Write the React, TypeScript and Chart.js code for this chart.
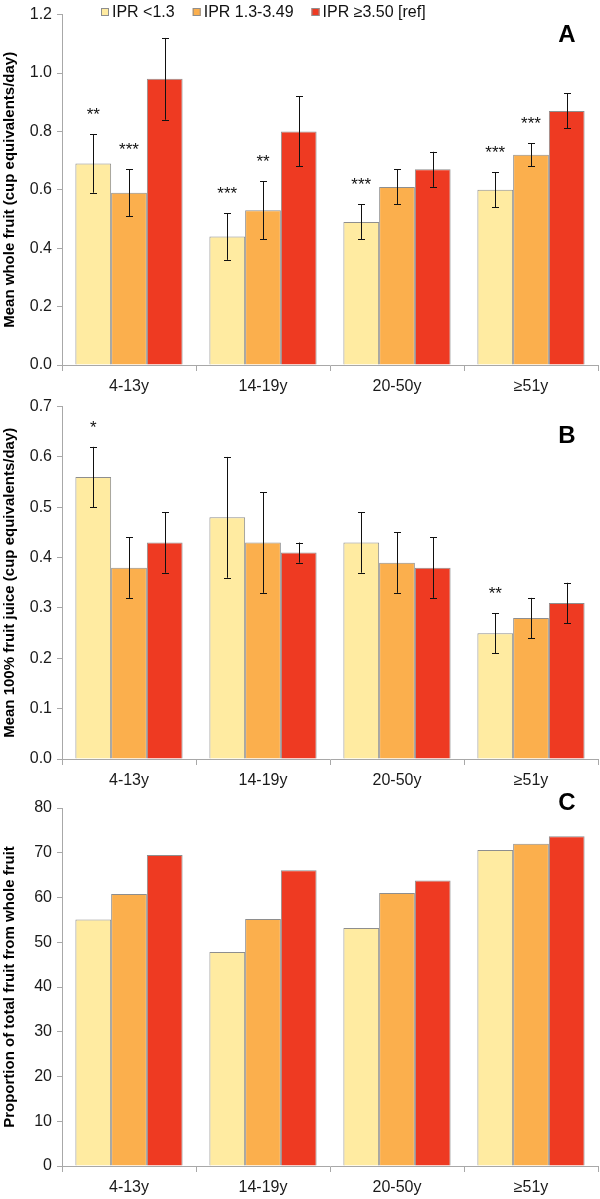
import React, { useEffect, useRef } from "react";
import { Chart, registerables } from "chart.js";
Chart.register(...registerables);

const FONT = "'Liberation Sans', Arial, sans-serif";

const categories = ["4-13y", "14-19y", "20-50y", "≥51y"];
const seriesLabels = ["IPR <1.3", "IPR 1.3-3.49", "IPR ≥3.50 [ref]"];
const seriesColors = ["#FFEBA1", "#FBAF4D", "#EE3A22"];

// Panel A: mean whole fruit
const wholeLow = [0.69, 0.44, 0.49, 0.6];
const wholeMid = [0.59, 0.53, 0.61, 0.72];
const wholeHigh = [0.98, 0.8, 0.67, 0.87];
const wholeLowCI = [[0.59, 0.79], [0.36, 0.52], [0.43, 0.55], [0.54, 0.66]];
const wholeMidCI = [[0.51, 0.67], [0.43, 0.63], [0.55, 0.67], [0.68, 0.76]];
const wholeHighCI = [[0.84, 1.12], [0.68, 0.92], [0.61, 0.73], [0.81, 0.93]];
const wholeLowStars = ["**", "***", "***", "***"];
const wholeMidStars = ["***", "**", "", "***"];
const wholeHighStars = ["", "", "", ""];

// Panel B: mean 100% fruit juice
const juiceLow = [0.56, 0.48, 0.43, 0.25];
const juiceMid = [0.38, 0.43, 0.39, 0.28];
const juiceHigh = [0.43, 0.41, 0.38, 0.31];
const juiceLowCI = [[0.5, 0.62], [0.36, 0.6], [0.37, 0.49], [0.21, 0.29]];
const juiceMidCI = [[0.32, 0.44], [0.33, 0.53], [0.33, 0.45], [0.24, 0.32]];
const juiceHighCI = [[0.37, 0.49], [0.39, 0.43], [0.32, 0.44], [0.27, 0.35]];
const juiceLowStars = ["*", "", "", "**"];
const juiceMidStars = ["", "", "", ""];
const juiceHighStars = ["", "", "", ""];

// Panel C: proportion of total fruit from whole fruit
const propLow = [55.1, 47.8, 53.2, 70.6];
const propMid = [60.8, 55.2, 61.0, 72.0];
const propHigh = [69.5, 66.1, 63.8, 73.7];

type PanelProps = {
  top: number;
  height: number;
  padTop: number;
  xAxisH: number;
  values: number[][];
  ci?: number[][][];
  stars?: string[][];
  yMax: number;
  yStep: number;
  decimals: number;
  yTitle: string;
  letter: string;
  letterY: number;
  showLegend?: boolean;
};

function Panel(props: PanelProps) {
  const ref = useRef<HTMLCanvasElement>(null);
  useEffect(() => {
    const { values, ci, stars, yMax, yStep, decimals, yTitle, letter, letterY, showLegend, padTop, xAxisH } = props;
    const axisColor = "#A8A8A8";
    const datasets = seriesLabels.map((label, i) => ({
      label,
      data: values[i],
      backgroundColor: seriesColors[i],
      borderColor: "#8E8E8E",
      borderWidth: 1,
      borderSkipped: "start" as const,
      categoryPercentage: 0.8,
      barPercentage: 1.0,
    }));
    const extras = {
      id: "extras",
      afterDatasetsDraw(chart: any) {
        const ctx = chart.ctx as CanvasRenderingContext2D;
        const ys = chart.scales.y;
        ctx.save();
        chart.data.datasets.forEach((ds: any, di: number) => {
          const meta = chart.getDatasetMeta(di);
          meta.data.forEach((bar: any, k: number) => {
            const x = bar.x;
            let topY = bar.y;
            const r = ci ? ci[di][k] : null;
            if (r) {
              const yl = ys.getPixelForValue(r[0]);
              const yh = ys.getPixelForValue(r[1]);
              const xc = Math.round(x) + 0.5;
              ctx.strokeStyle = "#111";
              ctx.lineWidth = 1;
              ctx.beginPath();
              ctx.moveTo(xc, yl);
              ctx.lineTo(xc, yh);
              ctx.moveTo(xc - 3.5, Math.round(yl) + 0.5);
              ctx.lineTo(xc + 3.5, Math.round(yl) + 0.5);
              ctx.moveTo(xc - 3.5, Math.round(yh) + 0.5);
              ctx.lineTo(xc + 3.5, Math.round(yh) + 0.5);
              ctx.stroke();
              topY = yh;
            }
            const s = stars ? stars[di][k] : "";
            if (s) {
              ctx.font = `17px ${FONT}`;
              ctx.fillStyle = "#111";
              ctx.textAlign = "center";
              ctx.textBaseline = "alphabetic";
              ctx.fillText(s, x, topY - 14);
            }
          });
        });
        // panel letter
        ctx.font = `bold 24px ${FONT}`;
        ctx.fillStyle = "#000";
        ctx.textAlign = "center";
        ctx.textBaseline = "middle";
        ctx.fillText(letter, chart.chartArea.right - 31, letterY);
        // legend
        if (showLegend) {
          let lx = 101;
          const cy = 12;
          ctx.font = `16px ${FONT}`;
          ctx.textAlign = "left";
          ctx.textBaseline = "middle";
          chart.data.datasets.forEach((ds: any) => {
            ctx.fillStyle = ds.backgroundColor;
            ctx.fillRect(lx, cy - 4, 8, 8);
            ctx.strokeStyle = "#8E8E8E";
            ctx.lineWidth = 1;
            ctx.strokeRect(lx + 0.5, cy - 3.5, 7, 7);
            ctx.fillStyle = "#111";
            ctx.fillText(ds.label, lx + 11, cy + 1);
            lx += 11 + ctx.measureText(ds.label).width + 18;
          });
        }
        ctx.restore();
      },
    };
    const chart = new Chart(ref.current as HTMLCanvasElement, {
      type: "bar",
      data: { labels: categories, datasets },
      options: {
        responsive: false,
        animation: false,
        devicePixelRatio: 1,
        layout: { padding: { top: padTop, left: 0, right: 2, bottom: 0 } },
        plugins: { legend: { display: false }, tooltip: { enabled: false } },
        scales: {
          x: {
            grid: { display: true, drawOnChartArea: false, drawTicks: true, tickLength: 6, color: axisColor, offset: true },
            border: { color: axisColor, width: 1 },
            ticks: { font: { family: FONT, size: 16 }, color: "#1a1a1a", padding: 6 },
            afterFit: (s: any) => {
              s.height = xAxisH;
            },
          },
          y: {
            min: 0,
            max: yMax,
            ticks: {
              stepSize: yStep,
              font: { family: FONT, size: 16 },
              color: "#1a1a1a",
              padding: 5,
              callback: (v: any) => Number(v).toFixed(decimals),
            },
            grid: { display: true, drawOnChartArea: false, drawTicks: true, tickLength: 5, color: axisColor },
            border: { color: axisColor, width: 1 },
            title: {
              display: true,
              text: yTitle,
              font: { family: FONT, size: 15, weight: "bold" },
              color: "#000",
              padding: { top: 1, bottom: 0 },
            },
            afterFit: (s: any) => {
              s.width = 62;
            },
          },
        },
      },
      plugins: [extras],
    } as any);
    return () => chart.destroy();
  }, []);
  return (
    <canvas
      ref={ref}
      width={600}
      height={props.height}
      style={{ position: "absolute", left: 0, top: props.top, display: "block" }}
    />
  );
}

export default function App() {
  return (
    <div style={{ position: "absolute", top: 0, left: 0, width: 600, height: 1199, background: "#fff" }}>
      <Panel
        top={0}
        height={402}
        padTop={10}
        xAxisH={37}
        values={[wholeLow, wholeMid, wholeHigh]}
        ci={[wholeLowCI, wholeMidCI, wholeHighCI]}
        stars={[wholeLowStars, wholeMidStars, wholeHighStars]}
        yMax={1.2}
        yStep={0.2}
        decimals={1}
        yTitle="Mean whole fruit (cup equivalents/day)"
        letter="A"
        letterY={35}
        showLegend
      />
      <Panel
        top={392}
        height={408}
        padTop={10.5}
        xAxisH={41}
        values={[juiceLow, juiceMid, juiceHigh]}
        ci={[juiceLowCI, juiceMidCI, juiceHighCI]}
        stars={[juiceLowStars, juiceMidStars, juiceHighStars]}
        yMax={0.7}
        yStep={0.1}
        decimals={1}
        yTitle="Mean 100% fruit juice (cup equivalents/day)"
        letter="B"
        letterY={44}
      />
      <Panel
        top={790}
        height={409}
        padTop={18}
        xAxisH={33}
        values={[propLow, propMid, propHigh]}
        yMax={80}
        yStep={10}
        decimals={0}
        yTitle="Proportion of total fruit from whole fruit"
        letter="C"
        letterY={13}
      />
    </div>
  );
}
